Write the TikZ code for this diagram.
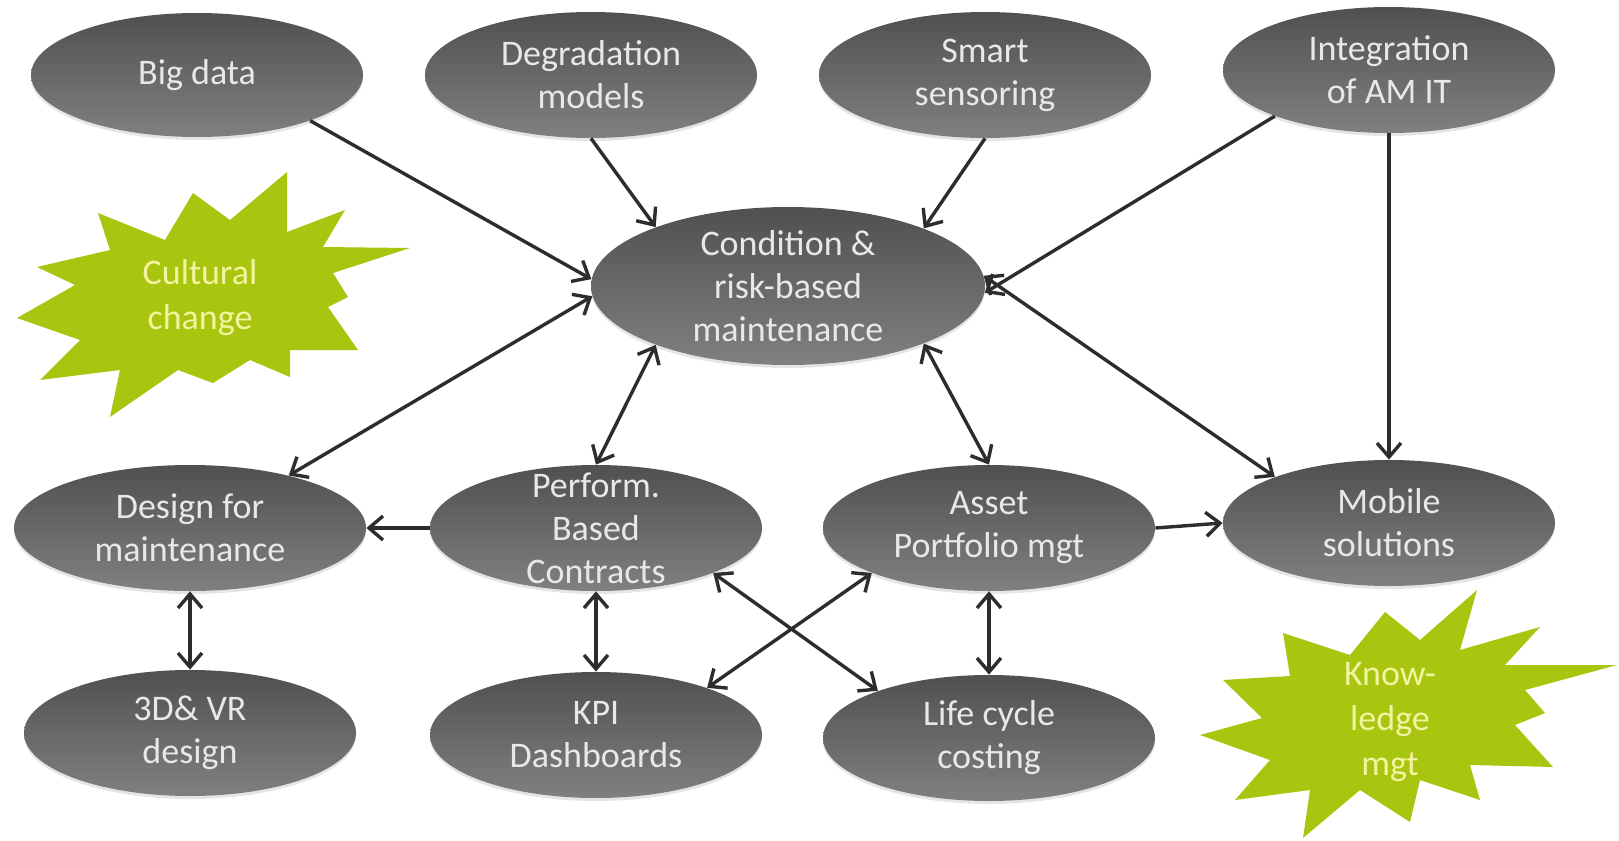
\documentclass[tikz,border=0pt]{standalone}
\usepackage{fontspec}
\setmainfont{Carlito}
\usetikzlibrary{shapes.geometric,arrows.meta,shadows}
\definecolor{elltop}{RGB}{80,80,80}
\definecolor{ellbot}{RGB}{128,128,128}
\definecolor{elltext}{RGB}{232,232,232}
\definecolor{arrowgray}{RGB}{45,45,45}
\definecolor{burst}{RGB}{168,197,16}
\definecolor{bursttext}{RGB}{242,244,160}
\tikzset{
    ell/.style={ellipse, minimum width=166pt, minimum height=63pt, inner sep=0pt,
        top color=elltop, bottom color=ellbot, draw=none,
        drop shadow={opacity=0.2, shadow xshift=0pt, shadow yshift=-1.5pt}},
    elltxt/.style={text=elltext, align=center, font=\fontsize{18}{21.5}\selectfont},
    bursttxt/.style={text=bursttext, align=center, font=\fontsize{18}{22.5}\selectfont},
    link/.style={draw=arrowgray, line width=1.7pt, -{Straight Barb[length=7pt,width=12pt]}},
    both/.style={link, {Straight Barb[length=7pt,width=12pt]}-{Straight Barb[length=7pt,width=12pt]}},
}
\begin{document}
\begin{tikzpicture}[x=0.5pt, y=-0.5pt]
        \fill[white] (0,0) rectangle (1619,841);
        \useasboundingbox (0,0) rectangle (1619,841);
        %% Bursts
        \fill[burst] (17,318) -- (75,285) -- (37,267) -- (110,250) -- (98,213) -- (165,240)
            -- (193,193) -- (230,220) -- (287,172) -- (287,232) -- (345,210) -- (323,247)
            -- (410,248) -- (333,273) -- (348,297) -- (328,307) -- (358,350) -- (290,350)
            -- (290,377) -- (250,360) -- (213,383) -- (178,370) -- (110,417) -- (120,370)
            -- (40,380) -- (80,340) -- cycle;
        \fill[burst] (1200,735) -- (1262,718) -- (1223,680) -- (1290,676) -- (1283,633)
            -- (1350,655) -- (1385,612) -- (1420,640) -- (1477,590) -- (1460,650)
            -- (1540,627) -- (1505,665) -- (1617,665) -- (1525,690) -- (1545,713)
            -- (1515,725) -- (1553,767) -- (1470,765) -- (1480,800) -- (1420,780)
            -- (1410,822) -- (1360,790) -- (1303,838) -- (1310,790) -- (1235,800)
            -- (1270,760) -- cycle;
        \node[bursttxt] (cult) at (200,298) {Cultural\\change};
        \node[bursttxt] (know) at (1390,722) {Know-\\ledge\\mgt};
        %% Ellipses
        \node[ell, minimum height=62pt] (big) at (197,75) {};
        \node[ell] (degr) at (591,75) {};
        \node[ell] (smart) at (985,75) {};
        \node[ell] (integ) at (1389,70) {};
        \node[ell, minimum width=197pt, minimum height=79pt] (cond) at (788,286) {};
        \node[ell, minimum width=176pt] (design) at (190,528) {};
        \node[ell] (perf) at (596,528) {};
        \node[ell] (asset) at (989,528) {};
        \node[ell] (mobile) at (1389,523) {};
        \node[ell] (vr) at (190,733) {};
        \node[ell] (kpi) at (596,735) {};
        \node[ell] (life) at (989,738) {};
        %% Labels
        \node[elltxt] (big-t) at (big) {Big data};
        \node[elltxt] (degr-t) at (degr) {Degradation\\models};
        \node[elltxt] (smart-t) at (smart) {Smart\\sensoring};
        \node[elltxt] (integ-t) at (integ) {Integration\\of AM IT};
        \node[elltxt] (cond-t) at (cond) {Condition \&\\risk-based\\maintenance};
        \node[elltxt] (design-t) at (design) {Design for\\maintenance};
        \node[elltxt] (perf-t) at (perf) {Perform.\\Based\\Contracts};
        \node[elltxt] (asset-t) at (asset) {Asset\\Portfolio mgt};
        \node[elltxt] (mobile-t) at (mobile) {Mobile\\solutions};
        \node[elltxt] (vr-t) at (vr) {3D\& VR\\design};
        \node[elltxt] (kpi-t) at (kpi) {KPI\\Dashboards};
        \node[elltxt] (life-t) at (life) {Life cycle\\costing};
        %% Arrows
        \draw[link] (big.338) -- (cond.178);
        \draw[link] (degr.south) -- (cond.156);
        \draw[link] (smart.south) -- (cond.23);
        \draw[link] (integ.202) -- (cond.358);
        \draw[link] (integ.south) -- (mobile.north);
        \draw[both] (cond.183) -- (design.28);
        \draw[both] (cond.204) -- (perf.north);
        \draw[both] (cond.337) -- (asset.north);
        \draw[both] (cond.3) -- (mobile.158);
        \draw[link] (perf.west) -- (design.east);
        \draw[link] (asset.east) -- (mobile.west);
        \draw[both] (design.south) -- (vr.north);
        \draw[both] (perf.south) -- (kpi.north);
        \draw[both] (asset.south) -- (life.north);
        \draw[both] (perf.339) -- (life.157);
        \draw[both] (asset.201) -- (kpi.23);
    \end{tikzpicture}
\end{document}
